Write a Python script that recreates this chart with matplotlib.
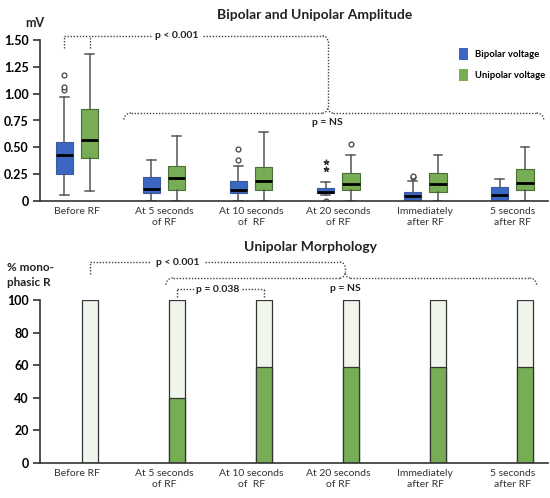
import numpy as np
import matplotlib
matplotlib.use("Agg")
import matplotlib.pyplot as plt
from matplotlib.patches import Patch

# ---------------- data ----------------
categories = ["Before RF", "At 5 seconds\nof RF", "At 10 seconds\nof  RF",
              "At 20 seconds\nof RF", "Immediately\nafter RF", "5 seconds\nafter RF"]

# Bipolar voltage box stats (mV)
bip_whislo = [0.06, 0.00, 0.00, 0.056, 0.00, 0.00]
bip_q1     = [0.25, 0.07, 0.07, 0.077, 0.00, 0.00]
bip_med    = [0.43, 0.11, 0.10, 0.087, 0.047, 0.06]
bip_q3     = [0.55, 0.22, 0.19, 0.124, 0.08, 0.128]
bip_whishi = [0.97, 0.38, 0.33, 0.18, 0.19, 0.205]
bip_fliers = [[1.03, 1.06, 1.17], [], [0.38, 0.48], [0.0], [0.22, 0.235], []]
bip_extremes = [[], [], [], [0.295, 0.36], [], []]   # drawn as stars

# Unipolar voltage box stats (mV)
uni_whislo = [0.09, 0.00, 0.00, 0.00, 0.00, 0.00]
uni_q1     = [0.40, 0.10, 0.10, 0.10, 0.087, 0.10]
uni_med    = [0.57, 0.21, 0.19, 0.16, 0.16, 0.17]
uni_q3     = [0.86, 0.33, 0.32, 0.26, 0.26, 0.295]
uni_whishi = [1.37, 0.61, 0.64, 0.43, 0.43, 0.50]
uni_fliers = [[], [], [], [0.53], [], []]

# Unipolar morphology: % monophasic R
monophasic_pct = [0, 40, 59, 59, 59, 59]
total_pct = [100, 100, 100, 100, 100, 100]

top_yticks = [0, 0.25, 0.50, 0.75, 1.00, 1.25, 1.50]
top_yticklabels = ["0", "0.25", "0.50", "0.75", "1.00", "1.25", "1.50"]
bot_yticks = [0, 20, 40, 60, 80, 100]

# ---------------- style ----------------
FONT = "Lato"
plt.rcParams["font.family"] = [FONT, "DejaVu Sans"]
BLUE = "#3b67c2"
GREEN = "#76ad55"
LIGHT = "#f0f5ec"
EDGE = "#555555"
DOT = dict(color="#444444", lw=1.0, ls=(0, (1, 1.2)), clip_on=False)

W, H = 550, 498
fig = plt.figure(figsize=(W / 100, H / 100), dpi=100)
ax_left = 40 / W
ax_w = 508 / W
ax1 = fig.add_axes([ax_left, 1 - 201 / H, ax_w, 161 / H])
ax2 = fig.add_axes([ax_left, 1 - 463 / H, ax_w, 163 / H])

x = np.arange(len(categories))
off = 0.145
bw = 0.2

def style_axes(ax):
    for s in ("top", "right"):
        ax.spines[s].set_visible(False)
    for s in ("left", "bottom"):
        ax.spines[s].set_color("#333333")
        ax.spines[s].set_linewidth(1.2)
    ax.set_xlim(-0.425, 5.41)
    ax.set_xticks(x)
    ax.set_xticklabels(categories, fontsize=7.5, color="#333333", linespacing=1.3)
    ax.tick_params(axis="x", length=0, pad=4)
    ax.tick_params(axis="y", length=5, width=1.2, color="#333333", pad=3)
    for lab in ax.get_yticklabels():
        lab.set_fontweight("bold")
        lab.set_fontsize(9)

# ---------------- top: box plots ----------------
def make_stats(lo, q1, med, q3, hi, fl):
    return [dict(whislo=a, q1=b, med=c, q3=d, whishi=e, fliers=f)
            for a, b, c, d, e, f in zip(lo, q1, med, q3, hi, fl)]

common = dict(widths=bw, patch_artist=True, showcaps=True,
              whiskerprops=dict(color=EDGE, lw=1.1),
              capprops=dict(color=EDGE, lw=1.1),
              medianprops=dict(color="black", lw=2.0),
              flierprops=dict(marker="o", markersize=3.5, markerfacecolor="white",
                              markeredgecolor="#444444", markeredgewidth=0.9))
b1 = ax1.bxp(make_stats(bip_whislo, bip_q1, bip_med, bip_q3, bip_whishi, bip_fliers),
             positions=x - off, **common)
b2 = ax1.bxp(make_stats(uni_whislo, uni_q1, uni_med, uni_q3, uni_whishi, uni_fliers),
             positions=x + off, **common)
for p in b1["boxes"]:
    p.set_facecolor(BLUE); p.set_edgecolor("#3a5aa0"); p.set_linewidth(0.8)
for p in b2["boxes"]:
    p.set_facecolor(GREEN); p.set_edgecolor("#4a6e35"); p.set_linewidth(0.8)
for i, ext in enumerate(bip_extremes):
    if ext:
        ax1.plot([x[i] - off] * len(ext), ext, ls="none", marker=(5, 2, 0),
                 markersize=4, color="#333333", mew=0.9)

ax1.set_ylim(0, 1.5)
ax1.set_yticks(top_yticks)
ax1.set_yticklabels(top_yticklabels)
style_axes(ax1)

fig.text(315 / W, 1 - 15 / H, "Bipolar and Unipolar Amplitude", ha="center", va="center",
         fontsize=10, fontweight="bold", color="#222222")
fig.text(25 / W, 1 - 23 / H, "mV", ha="left", va="center", fontsize=9,
         fontweight="bold", color="#222222")

leg = fig.legend(handles=[Patch(facecolor=BLUE, edgecolor="none", label="Bipolar voltage"),
                          Patch(facecolor=GREEN, edgecolor="none", label="Unipolar voltage")],
                 loc="upper left", bbox_to_anchor=(450 / W, 1 - 40 / H), frameon=False,
                 prop=dict(family=[FONT], weight="bold", size=6.8),
                 handlelength=1.0, handleheight=1.5, labelspacing=1.0, handletextpad=0.7)

# brackets top
def arc(cx, cy, r, a0, a1, sx=1.0, sy=1.0):
    t = np.linspace(np.radians(a0), np.radians(a1), 12)
    return cx + r * sx * np.cos(t), cy + r * sy * np.sin(t)

ytop = 1.54
ax1.plot([x[0] - off, x[0] - off], [1.43, ytop], **DOT)
ax1.plot([x[0] + off, x[0] + off], [1.43, ytop], **DOT)
ax1.plot([x[0] - off, 0.85], [ytop, ytop], **DOT)
ax1.text(1.15, ytop, "p < 0.001", ha="center", va="center", fontsize=7.5,
         fontweight="bold", color="#222222")
xt = 2.88
ax1.plot([1.45, xt - 0.06], [ytop, ytop], **DOT)
ax1.plot([xt, xt], [ytop - 0.05, 0.875], **DOT)
ax1.plot(*arc(xt - 0.06, ytop - 0.05, 1.0, 90, 0, sx=0.06, sy=0.05), **DOT)
# lower brace
yb = 0.82
ax1.plot([0.62, xt - 0.06], [yb, yb], **DOT)
ax1.plot([xt + 0.06, 5.28], [yb, yb], **DOT)
ax1.plot(*arc(0.62, yb - 0.06, 1.0, 90, 180, sx=0.08, sy=0.06), **DOT)
ax1.plot(*arc(5.28, yb - 0.06, 1.0, 90, 0, sx=0.08, sy=0.06), **DOT)
ax1.plot(*arc(xt - 0.06, yb + 0.05, 1.0, 270, 360, sx=0.06, sy=0.05), **DOT)
ax1.plot(*arc(xt + 0.06, yb + 0.05, 1.0, 270, 180, sx=0.06, sy=0.05), **DOT)
ax1.text(xt, 0.73, "p = NS", ha="center", va="center", fontsize=7.5,
         fontweight="bold", color="#222222")

# ---------------- bottom: stacked bars ----------------
ax2.bar(x + off, total_pct, width=bw * 0.92, color=LIGHT, edgecolor="#333333", lw=0.9)
ax2.bar(x + off, monophasic_pct, width=bw * 0.92, color=GREEN, edgecolor="#333333", lw=0.9)
ax2.set_ylim(0, 100)
ax2.set_yticks(bot_yticks)
style_axes(ax2)

fig.text(311 / W, 1 - 247 / H, "Unipolar Morphology", ha="center", va="center",
         fontsize=10, fontweight="bold", color="#222222")
fig.text(7 / W, 1 - 275 / H, "% mono-\nphasic R", ha="left", va="center", fontsize=8.5,
         fontweight="bold", color="#222222", linespacing=1.4)

yt2 = 123.3
ax2.plot([x[0] + off, x[0] + off], [116, yt2], **DOT)
ax2.plot([x[0] + off, 0.85], [yt2, yt2], **DOT)
ax2.text(1.16, yt2, "p < 0.001", ha="center", va="center", fontsize=7.5,
         fontweight="bold", color="#222222")
xt2 = 3.08
ax2.plot([1.47, xt2 - 0.06], [yt2, yt2], **DOT)
ax2.plot(*arc(xt2 - 0.06, yt2 - 3.5, 1.0, 90, 0, sx=0.06, sy=3.5), **DOT)
ax2.plot([xt2, xt2], [yt2 - 3.5, 117], **DOT)
yb2 = 113.5
ax2.plot([1.1, xt2 - 0.06], [yb2, yb2], **DOT)
ax2.plot([xt2 + 0.06, 5.2], [yb2, yb2], **DOT)
ax2.plot(*arc(1.1, yb2 - 4.5, 1.0, 90, 180, sx=0.08, sy=4.5), **DOT)
ax2.plot(*arc(5.2, yb2 - 4.5, 1.0, 90, 0, sx=0.08, sy=4.5), **DOT)
ax2.plot(*arc(xt2 - 0.06, yb2 + 3.5, 1.0, 270, 360, sx=0.06, sy=3.5), **DOT)
ax2.plot(*arc(xt2 + 0.06, yb2 + 3.5, 1.0, 270, 180, sx=0.06, sy=3.5), **DOT)
ax2.text(xt2, 107.3, "p = NS", ha="center", va="center", fontsize=7.5,
         fontweight="bold", color="#222222")

y38 = 106.7
ax2.plot([x[1] + off, x[1] + off], [101.8, y38], **DOT)
ax2.plot([x[1] + off, 1.35], [y38, y38], **DOT)
ax2.text(1.62, y38, "p = 0.038", ha="center", va="center", fontsize=7.5,
         fontweight="bold", color="#222222")
ax2.plot([1.9, x[2] + off], [y38, y38], **DOT)
ax2.plot([x[2] + off, x[2] + off], [101.8, y38], **DOT)

fig.savefig("out.png", dpi=100)
